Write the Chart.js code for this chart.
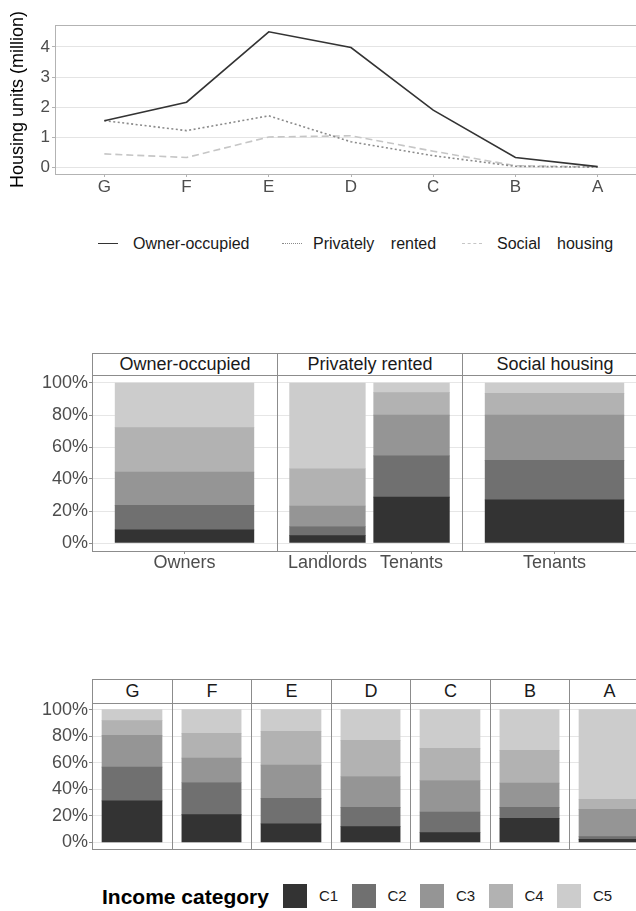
<!DOCTYPE html>
<html>
<head>
<meta charset="utf-8">
<script src="https://cdn.jsdelivr.net/npm/chart.js@4/dist/chart.umd.min.js"></script>
<style>
html,body{margin:0;padding:0;background:#fff;width:636px;height:911px;overflow:hidden;position:relative;font-family:"Liberation Sans",Arial,sans-serif;}
canvas{position:absolute;}
.strip{position:absolute;box-sizing:border-box;border:1px solid #8c8c8c;background:#fff;color:#1a1a1a;font-size:18px;text-align:center;white-space:nowrap;}
.leg{position:absolute;font-size:16px;color:#1a1a1a;white-space:nowrap;line-height:20px;}
.legline{position:absolute;height:0;}
.sw{position:absolute;width:24px;height:24px;}
.swl{position:absolute;font-size:15px;color:#1a1a1a;line-height:20px;}
.ttl{position:absolute;font-size:21px;font-weight:bold;color:#000;line-height:26px;white-space:nowrap;}
</style>
</head>
<body>
<script>
// ---------- DATA ----------
const ratingBands = ['G', 'F', 'E', 'D', 'C', 'B', 'A'];
const ownerOccupied   = [1.56, 2.17, 4.50, 3.98, 1.91, 0.34, 0.04];
const privatelyRented = [1.56, 1.23, 1.72, 0.86, 0.40, 0.05, 0.02];
const socialHousing   = [0.46, 0.34, 1.02, 1.06, 0.55, 0.07, 0.03];
const unitTicks = [0, 1, 2, 3, 4];

const tenureFacets = ['Owner-occupied', 'Privately rented', 'Social housing'];
const tenureGroups = [['Owners'], ['Landlords', 'Tenants'], ['Tenants']];
const incomeCategories = ['C1', 'C2', 'C3', 'C4', 'C5'];
// income shares (%), C1..C5
const ownersShares         = [8.2, 15.3, 20.8, 27.8, 27.9];
const landlordsShares      = [4.6, 5.7, 12.8, 23.3, 53.6];
const privateTenantsShares = [28.7, 25.8, 25.4, 14.1, 6.0];
const socialTenantsShares  = [27.0, 24.6, 28.3, 13.6, 6.5];

// income shares (%) by energy rating band, C1..C5
const bandG = [31.2, 25.5, 23.9, 11.1, 8.3];
const bandF = [20.9, 24.2, 18.4, 18.6, 17.9];
const bandE = [13.9, 19.3, 25.0, 25.4, 16.4];
const bandD = [11.8, 14.6, 23.2, 27.2, 23.2];
const bandC = [7.3, 15.6, 23.7, 24.2, 29.2];
const bandB = [18.1, 8.3, 18.2, 24.7, 30.7];
const bandA = [2.3, 2.0, 20.6, 7.6, 67.5];
const percentTicks = [0, 20, 40, 60, 80, 100];

// ---------- STYLE ----------
const incomeColors = ['#333333', '#707070', '#959595', '#b2b2b2', '#cccccc'];
Chart.defaults.font.family = '"Liberation Sans", Arial, sans-serif';
Chart.defaults.animation = false;

const framePlugin = {
  id: 'frame',
  afterDatasetsDraw(chart, args, opts) {
    const a = chart.chartArea, ctx = chart.ctx;
    ctx.save();
    ctx.strokeStyle = opts.color || '#8c8c8c';
    ctx.lineWidth = 1;
    const l = Math.round(a.left), t = Math.round(a.top), r = Math.round(a.right), b = Math.round(a.bottom);
    ctx.strokeRect(l + 0.5, t + 0.5, r - l, b - t);
    ctx.restore();
  }
};
function noPad(s) { s.paddingLeft = 0; s.paddingRight = 0; s.paddingTop = 0; s.paddingBottom = 0; }

function makeCanvas(left, top, w, h) {
  const c = document.createElement('canvas');
  c.width = w; c.height = h;
  c.style.left = left + 'px'; c.style.top = top + 'px';
  c.style.width = w + 'px'; c.style.height = h + 'px';
  document.body.appendChild(c);
  return c;
}
function addDiv(cls, css, text) {
  const d = document.createElement('div');
  d.className = cls;
  Object.assign(d.style, css);
  if (text !== undefined) d.textContent = text;
  document.body.appendChild(d);
  return d;
}

// ---------- PANEL 1: line chart ----------
(function () {
  const W = 660, H = 200, plotLeft = 55, plotTop = 25, plotBottom = 174, plotRight = 647;
  const cv = makeCanvas(0, 0, W, H);
  const pts = arr => arr.map((v, i) => ({ x: i, y: v }));
  new Chart(cv, {
    type: 'line',
    data: {
      datasets: [
        { label: 'Owner-occupied', data: pts(ownerOccupied), borderColor: '#333333', borderWidth: 1.6, pointRadius: 0, tension: 0 },
        { label: 'Privately rented', data: pts(privatelyRented), borderColor: '#8a8a8a', borderWidth: 1.6, borderDash: [2, 2.5], pointRadius: 0, tension: 0 },
        { label: 'Social housing', data: pts(socialHousing), borderColor: '#c6c6c6', borderWidth: 1.6, borderDash: [7, 4], pointRadius: 0, tension: 0 }
      ]
    },
    options: {
      responsive: false, animation: false,
      layout: { padding: { top: plotTop, right: W - plotRight, left: 0, bottom: 0 } },
      plugins: { legend: { display: false }, tooltip: { enabled: false }, frame: { color: '#b3b3b3' } },
      scales: {
        x: {
          type: 'linear', min: -0.6, max: ratingBands.length - 0.4,
          grid: { display: true, drawOnChartArea: false, tickLength: 3, tickColor: '#b3b3b3' },
          border: { display: false },
          ticks: { autoSkip: false, maxRotation: 0, padding: 0, color: '#4d4d4d', font: { size: 17 }, callback: v => ratingBands[v] },
          afterBuildTicks: s => { s.ticks = ratingBands.map((_, i) => ({ value: i })); },
          afterFit: s => { s.height = H - plotBottom; noPad(s); }
        },
        y: {
          min: -0.205, max: 4.725,
          grid: { color: '#e4e4e4', tickLength: 3, tickColor: '#b3b3b3' },
          border: { display: false },
          title: { display: true, text: 'Housing units (million)', color: '#000', font: { size: 18 }, padding: { top: 7, bottom: 0 } },
          ticks: { padding: 2, color: '#4d4d4d', font: { size: 17 } },
          afterBuildTicks: s => { s.ticks = unitTicks.map(v => ({ value: v })); },
          afterFit: s => { s.width = plotLeft; noPad(s); }
        }
      }
    },
    plugins: [framePlugin]
  });

  // legend (HTML)
  const legY = 244;
  const items = [
    { label: 'Owner-occupied', x: 98, tx: 133, style: 'solid', color: '#333333' },
    { label: 'Privately rented', x: 282, tx: 313, style: 'dotted', color: '#8a8a8a' },
    { label: 'Social housing', x: 462, tx: 497, style: 'dashed', color: '#c6c6c6' }
  ];
  items.forEach(it => {
    addDiv('legline', { left: it.x + 'px', top: (legY - 1) + 'px', width: '20px', borderTop: '1.6px ' + it.style + ' ' + it.color });
    addDiv('leg', { left: it.tx + 'px', top: (legY - 10) + 'px', wordSpacing: '12px' }, it.label);
  });
})();

// ---------- FACETED BARS ----------
function facetBars(cfg) {
  const { panelLeft, panelWidth, plotTop, plotBottom, cats, shares, showY, showX } = cfg;
  const cl = showY ? 0 : panelLeft - 2;
  const padL = showY ? 0 : 2;
  const xAxisH = showX ? 30 : 0;
  const padB = showX ? 0 : 2;
  const W = panelLeft + panelWidth + 2 - cl;
  const H = 2 + (plotBottom - plotTop) + xAxisH + padB;
  const cv = makeCanvas(cl, plotTop - 2, W, H);
  const n = cats.length;
  const thickness = 0.9 * panelWidth / (n + 0.2);
  const datasets = incomeCategories.map((c, k) => ({
    label: c,
    data: cats.map((_, i) => ({ x: i, y: shares[i][k] })),
    backgroundColor: incomeColors[k],
    borderWidth: 0,
    barThickness: thickness,
    stack: 's'
  }));
  new Chart(cv, {
    type: 'bar',
    data: { datasets },
    options: {
      responsive: false, animation: false,
      layout: { padding: { top: 2, right: 2, left: padL, bottom: padB } },
      plugins: { legend: { display: false }, tooltip: { enabled: false }, frame: { color: '#8c8c8c' } },
      scales: {
        x: {
          type: 'linear', stacked: true, display: showX, offset: false,
          min: -0.6, max: n - 0.4,
          grid: { display: true, offset: false, drawOnChartArea: false, tickLength: 3, tickColor: '#8c8c8c' },
          border: { display: false },
          ticks: { autoSkip: false, maxRotation: 0, padding: -2, color: '#4d4d4d', font: { size: 18 }, callback: v => cats[v] },
          afterBuildTicks: s => { s.ticks = cats.map((_, i) => ({ value: i })); },
          afterFit: s => { s.height = xAxisH; noPad(s); }
        },
        y: {
          stacked: true, min: -5, max: 105,
          grid: { color: '#e6e6e6', drawTicks: showY, tickLength: 3, tickColor: '#8c8c8c' },
          border: { display: false },
          ticks: { display: showY, padding: 1, color: '#4d4d4d', font: { size: 18 }, callback: v => v + '%' },
          afterBuildTicks: s => { s.ticks = percentTicks.map(v => ({ value: v })); },
          afterFit: s => { s.width = showY ? panelLeft : 0; noPad(s); }
        }
      }
    },
    plugins: [framePlugin]
  });
}

// ---------- PANEL 2 ----------
(function () {
  const left0 = 92, pw = 185, stripTop = 353, plotTop = 375, plotBottom = 551;
  const groupShares = [[ownersShares], [landlordsShares, privateTenantsShares], [socialTenantsShares]];
  tenureFacets.forEach((name, f) => {
    const pl = left0 + f * pw;
    addDiv('strip', { left: pl + 'px', top: stripTop + 'px', width: (pw + 1) + 'px', height: (plotTop - stripTop + 1) + 'px', lineHeight: (plotTop - stripTop - 1) + 'px' }, name);
    facetBars({ panelLeft: pl, panelWidth: pw, plotTop, plotBottom, cats: tenureGroups[f], shares: groupShares[f], showY: f === 0, showX: true });
  });
})();

// ---------- PANEL 3 ----------
(function () {
  const left0 = 92, pw = 79.5, stripTop = 679, plotTop = 703, plotBottom = 849;
  const bands = [bandG, bandF, bandE, bandD, bandC, bandB, bandA];
  ratingBands.forEach((name, f) => {
    const pl = Math.round(left0 + f * pw);
    const pr = Math.round(left0 + (f + 1) * pw);
    addDiv('strip', { left: pl + 'px', top: stripTop + 'px', width: (pr - pl + 1) + 'px', height: (plotTop - stripTop + 1) + 'px', lineHeight: (plotTop - stripTop - 1) + 'px' }, name);
    facetBars({ panelLeft: pl, panelWidth: pr - pl, plotTop, plotBottom, cats: [name], shares: [bands[f]], showY: f === 0, showX: false });
  });

  // income legend
  addDiv('ttl', { left: '102px', top: '884px' }, 'Income category');
  incomeCategories.forEach((c, k) => {
    const x = 283 + k * 68.5;
    addDiv('sw', { left: x + 'px', top: '884px', background: incomeColors[k] });
    addDiv('swl', { left: (x + 36) + 'px', top: '886px' }, c);
  });
})();
</script>
</body>
</html>
